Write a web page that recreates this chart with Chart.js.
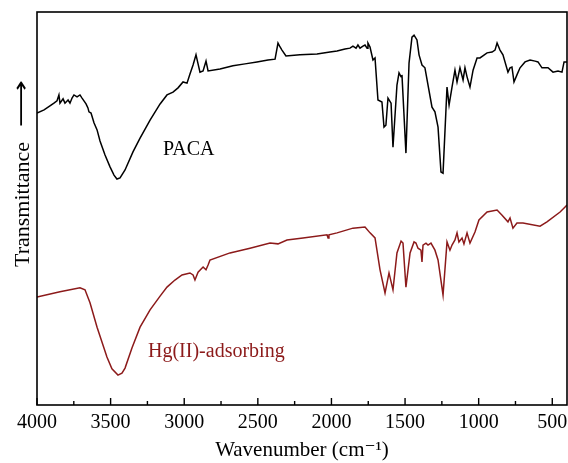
<!DOCTYPE html>
<html>
<head>
<meta charset="utf-8">
<script src="https://cdn.jsdelivr.net/npm/chart.js@4"></script>
<style>
html,body{margin:0;padding:0;background:#fff;}
canvas{display:block;}
</style>
</head>
<body>
<canvas id="c" width="568" height="463"></canvas>
<script>
// Wavenumber (cm^-1) and transmittance (arbitrary units, 0-100)
const pacaWn = [4000,3952,3912,3885,3864,3851,3844,3823,3810,3789,3776,3762,3749,3728,3708,3694,3681,3667,3654,3647,3633,3613,3592,3572,3538,3504,3477,3457,3436,3402,3348,3300,3232,3164,3117,3076,3042,3008,2981,2961,2940,2920,2906,2893,2872,2852,2838,2757,2669,2587,2506,2431,2383,2363,2349,2336,2309,2214,2098,2010,1962,1908,1874,1854,1833,1820,1806,1786,1772,1758,1752,1738,1718,1704,1684,1657,1643,1630,1616,1595,1582,1555,1541,1527,1521,1494,1473,1453,1439,1419,1405,1385,1365,1317,1297,1276,1256,1242,1215,1201,1181,1161,1147,1127,1106,1093,1079,1059,1038,1011,991,943,909,889,875,855,835,801,787,774,760,740,719,685,651,617,597,570,529,495,461,434,420,400];
const pacaT = [74.3,75.1,76.1,76.8,77.4,78.9,76.8,77.9,76.8,77.6,76.8,78.1,78.9,78.4,78.9,78.1,77.4,76.6,75.6,74.6,74.3,71.8,70.0,67.2,63.6,60.6,58.5,57.5,57.8,59.8,64.4,67.9,72.5,76.6,78.9,79.6,80.7,82.2,81.9,84.2,86.5,89.1,86.8,84.7,85.0,87.5,85.0,85.5,86.3,86.8,87.3,87.8,88.0,92.1,91.1,90.3,88.8,89.1,89.3,89.8,90.1,90.6,90.8,91.3,90.8,91.6,90.8,91.3,91.6,90.8,92.1,91.1,87.8,88.3,77.6,77.1,70.7,71.2,78.1,76.8,65.6,81.4,84.5,83.5,84.0,64.1,87.0,93.6,94.1,92.9,89.1,86.5,85.8,75.8,74.6,70.7,59.3,59.0,80.9,76.3,80.9,85.2,82.2,85.8,82.7,85.8,83.5,80.9,85.2,88.3,88.3,89.6,89.8,90.3,92.1,90.3,89.1,84.7,85.8,86.0,82.2,84.0,85.8,87.3,87.8,87.5,87.3,85.8,85.8,84.7,85.0,84.7,87.3,87.3];

const hgWn = [4000,3844,3708,3674,3640,3592,3525,3491,3450,3423,3402,3355,3300,3232,3164,3117,3063,3015,2961,2940,2927,2906,2872,2852,2838,2825,2689,2553,2417,2363,2302,2193,2030,2023,2017,1962,1854,1772,1738,1704,1670,1636,1609,1582,1555,1527,1514,1494,1466,1439,1426,1412,1392,1385,1378,1358,1344,1324,1297,1276,1242,1215,1195,1181,1161,1147,1134,1113,1100,1079,1059,1025,998,943,875,841,801,787,767,740,699,583,536,447,413,400];
const hgT = [27.5,28.8,29.8,29.3,26.0,19.8,12.2,9.2,7.6,8.1,9.4,14.5,19.8,24.2,27.7,30.0,31.8,33.1,33.6,33.1,31.8,33.8,35.1,34.4,35.6,36.9,38.7,39.9,41.2,41.0,42.0,42.5,43.3,42.5,43.3,43.8,45.0,45.3,43.8,42.5,34.4,28.5,33.6,29.3,38.7,41.7,41.2,30.0,38.7,41.5,41.2,39.9,39.4,36.4,40.7,41.2,40.7,41.2,39.4,36.9,28.0,41.5,39.4,40.7,42.0,43.8,41.5,42.5,41.0,43.8,41.2,44.0,47.1,49.1,49.6,48.3,46.6,47.6,45.0,46.3,46.3,45.5,46.6,49.1,50.4,50.9];

const majorTicks = [4000,3500,3000,2500,2000,1500,1000,500];
const minorTicks = [3750,3250,2750,2250,1750,1250,750];
const seriesNames = ['PACA','Hg(II)-adsorbing'];
const xTitle = 'Wavenumber (cm\u207B\u00B9)';
const yTitle = 'Transmittance';
// label anchors in data units (wavenumber, transmittance)
const pacaLabelAt = [3144, 63.6];
const hgLabelAt = [3246, 12.2];

const BLACK = '#000000';
const RED = '#8c1a1a';
const SERIF = '"Liberation Serif", "DejaVu Serif", serif';

function pts(xs, ys){ return xs.map((x,i)=>({x:x, y:ys[i]})); }

const overlay = {
  id:'overlay',
  afterDraw(chart){
    const ctx = chart.ctx, a = chart.chartArea, xs = chart.scales.x, ys = chart.scales.y;
    ctx.save();
    // frame
    ctx.strokeStyle = '#000'; ctx.lineWidth = 1.6;
    ctx.strokeRect(a.left, a.top, a.right - a.left, a.bottom - a.top);
    // inward ticks
    ctx.lineWidth = 1.4;
    ctx.beginPath();
    majorTicks.forEach(v=>{ const x = xs.getPixelForValue(v); ctx.moveTo(x, a.bottom); ctx.lineTo(x, a.bottom-7); });
    minorTicks.forEach(v=>{ const x = xs.getPixelForValue(v); ctx.moveTo(x, a.bottom); ctx.lineTo(x, a.bottom-4); });
    ctx.stroke();
    // series labels
    ctx.font = '20px ' + SERIF;
    ctx.textBaseline = 'alphabetic'; ctx.textAlign = 'left';
    ctx.fillStyle = BLACK;
    ctx.fillText(seriesNames[0], xs.getPixelForValue(pacaLabelAt[0]), ys.getPixelForValue(pacaLabelAt[1]));
    ctx.fillStyle = RED;
    ctx.fillText(seriesNames[1], xs.getPixelForValue(hgLabelAt[0]), ys.getPixelForValue(hgLabelAt[1]));
    // y title with arrow
    ctx.translate(29, 207);
    ctx.rotate(-Math.PI/2);
    ctx.fillStyle = '#000';
    ctx.textBaseline = 'alphabetic'; ctx.textAlign = 'left';
    ctx.font = '22px ' + SERIF;
    ctx.fillText(yTitle, -60, 0);
    const w = ctx.measureText(yTitle).width;
    ctx.translate(-60 + w + 15, -1);
    ctx.scale(1.5, 1);
    ctx.font = '22px "DejaVu Sans", sans-serif';
    ctx.fillText('\u27F6', 0, 0);
    ctx.restore();
  }
};

new Chart(document.getElementById('c'), {
  type:'line',
  data:{ datasets:[
    { label:seriesNames[0], data:pts(pacaWn, pacaT), borderColor:BLACK, borderWidth:1.5, pointRadius:0, tension:0, fill:false },
    { label:seriesNames[1], data:pts(hgWn, hgT), borderColor:RED, borderWidth:1.5, pointRadius:0, tension:0, fill:false }
  ]},
  options:{
    responsive:false, animation:false, devicePixelRatio:1,
    layout:{ padding:{ left:37, right:1, top:12, bottom:2 } },
    plugins:{ legend:{display:false}, tooltip:{enabled:false} },
    scales:{
      x:{
        type:'linear', reverse:true, min:400, max:4000,
        afterBuildTicks(s){ s.ticks = majorTicks.map(v=>({value:v})); },
        afterFit(s){ s.height = 56; s.paddingLeft = 0; s.paddingRight = 0; },
        ticks:{ color:'#000', font:{family:SERIF, size:20}, padding:6, maxRotation:0, autoSkip:false, callback:v=>String(v) },
        grid:{ display:false, drawTicks:false },
        border:{ display:false },
        title:{ display:true, text:xTitle, color:'#000', font:{family:SERIF, size:21, lineHeight:1.0}, padding:{top:8, bottom:0} }
      },
      y:{ type:'linear', min:0, max:100, display:false }
    }
  },
  plugins:[overlay]
});
</script>
</body>
</html>
